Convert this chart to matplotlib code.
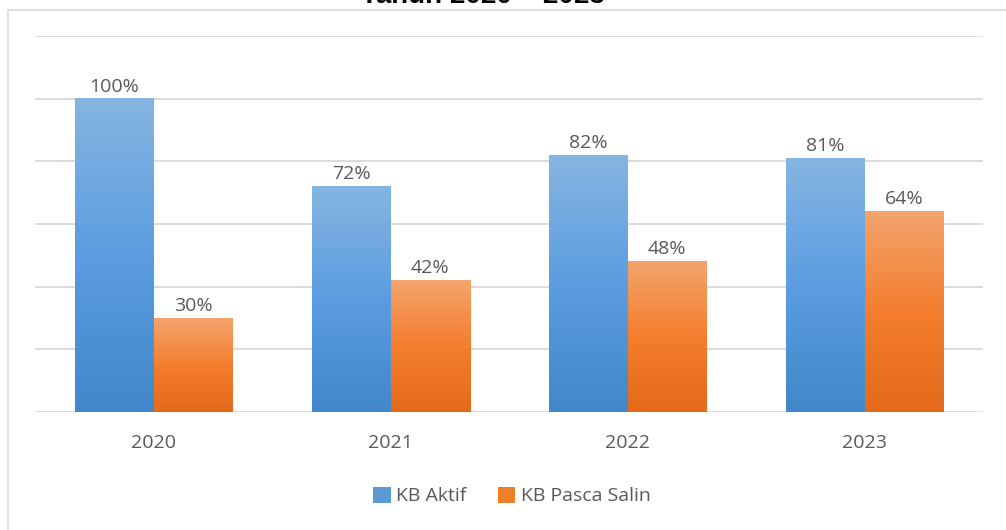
import numpy as np
import matplotlib.pyplot as plt
from matplotlib.patches import Rectangle, Patch
from matplotlib.colors import LinearSegmentedColormap

# data
years = ['2020', '2021', '2022', '2023']
kb_aktif = [100, 72, 82, 81]
kb_pasca_salin = [30, 42, 48, 64]
title = 'Tahun 2020 – 2023'

# gradients (top light -> bottom dark)
blue_cmap = LinearSegmentedColormap.from_list('b', ['#4287c9', '#5b9de0', '#86b5e1'])
orange_cmap = LinearSegmentedColormap.from_list('o', ['#e4691b', '#f47e2e', '#f3a46d'])

plt.rcParams['font.family'] = ['Open Sans', 'DejaVu Sans']

fig = plt.figure(figsize=(10.06, 5.30), dpi=100)
ax = fig.add_axes([35 / 1006, 1 - 412 / 530, 948 / 1006, 376 / 530])

# outer chart border
fig.patches.append(Rectangle((8 / 1006, -0.1), 1.1, 1 - 10 / 530 + 0.1,
                             transform=fig.transFigure, fill=False,
                             edgecolor='#d9d9d9', lw=1.2, zorder=0))

# title, mostly clipped at the top
fig.text(483 / 1006, 1 - 3 / 530, title, ha='center', va='baseline',
         fontsize=20, fontweight='bold', family='Liberation Sans', color='black')

x = np.arange(len(years))
w = 1 / 3
grad = np.linspace(0, 1, 256).reshape(-1, 1)

for xs, vals, cmap in [(x - w / 2, kb_aktif, blue_cmap), (x + w / 2, kb_pasca_salin, orange_cmap)]:
    for xi, v in zip(xs, vals):
        ax.imshow(grad, extent=[xi - w / 2, xi + w / 2, 0, v], origin='lower',
                  cmap=cmap, aspect='auto', zorder=3)
        ax.text(xi, v + 1.0, f'{v}%', ha='center', va='bottom',
                fontsize=14, color='#595959', zorder=4)

ax.set_xlim(-0.5, len(years) - 0.5)
ax.set_ylim(0, 120)
ax.set_yticks(np.arange(0, 121, 20))
ax.yaxis.grid(True, color='#d9d9d9', lw=1.3)
ax.set_axisbelow(True)
ax.tick_params(axis='y', length=0, labelleft=False)
ax.set_xticks(x)
ax.set_xticklabels(years, fontsize=14, color='#595959')
ax.tick_params(axis='x', length=0, pad=16)
for s in ax.spines.values():
    s.set_visible(False)

handles = [Patch(facecolor='#5b9bd5', label='KB Aktif'),
           Patch(facecolor='#f07f2a', label='KB Pasca Salin')]
fig.legend(handles=handles, loc='center', bbox_to_anchor=(512 / 1006, 1 - 496 / 530),
           ncol=2, frameon=False, fontsize=14, handlelength=0.9, handleheight=0.9,
           handletextpad=0.3, columnspacing=1.6, labelcolor='#595959')

plt.savefig('out.png', dpi=100)
